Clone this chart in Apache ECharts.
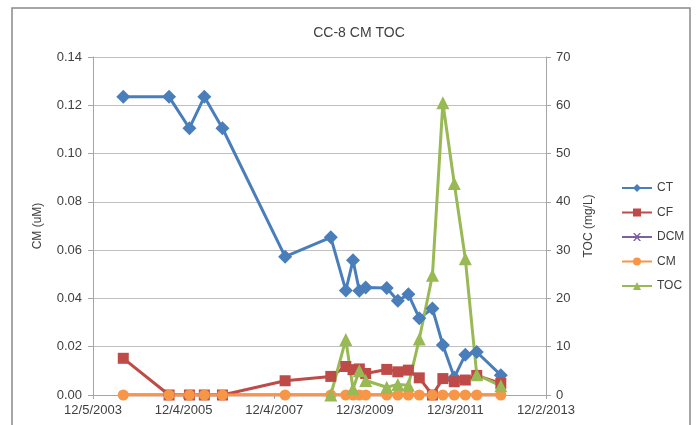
<!DOCTYPE html>
<html>
<head>
<meta charset="utf-8">
<script src="https://cdn.jsdelivr.net/npm/echarts@6/dist/echarts.min.js"></script>
<style>
html,body{margin:0;padding:0;background:#fff;}
#chart{width:699px;height:425px;}
</style>
</head>
<body>
<div id="chart"></div>
<script>
// ---- data ----
var startDate = '2003-12-05';
var dates = ['2004-08-05','2005-08-09','2006-01-20','2006-05-20','2006-10-13','2008-03-01',
  '2009-03-04','2009-07-03','2009-08-30','2009-10-20','2009-12-10','2010-05-29','2010-08-26',
  '2010-11-19','2011-02-15','2011-06-01','2011-08-24','2011-11-24','2012-02-21','2012-05-23','2012-12-03'];
var ct  = [0.1235,0.1235,0.1105,0.1235,0.1105,0.0573,0.0653,0.0433,0.0558,0.0432,0.0445,0.0443,0.0390,
  0.0417,0.0318,0.0358,0.0207,0.0073,0.0167,0.0178,0.0082];
var cf  = [0.0152,0,0,0,0,0.0059,0.0077,0.0118,0.0105,0.0108,0.0089,0.0106,0.0096,
  0.0103,0.0071,0,0.0068,0.0055,0.0062,0.0081,0.0048];
var dcm = [0,0,0,0,0,0,0,0,0,0,0,0,0,0,0,0,0,0,0,0,0];
var cm  = [0,0,0,0,0,0,0,0,0,0,0,0,0,0,0,0,0,0,0,0,0];
var toc = [null,null,null,null,null,null,0,11.5,1.3,5.0,3.0,1.6,2.2,2.0,11.6,24.8,60.5,43.8,28.2,4.2,1.9];
var seriesNames = ['CT','CF','DCM','CM','TOC'];
var leftTicks = {min:0, max:0.14, interval:0.02};
var rightTicks = {min:0, max:70, interval:10};
var xSpanDays = 3650, xStepDays = 730;

// ---- helpers ----
function dayNum(s){var p=s.split('-');return Date.UTC(+p[0],+p[1]-1,+p[2])/86400000;}
var d0 = dayNum(startDate);
function pairs(vals){return dates.map(function(d,i){return [dayNum(d)-d0, vals[i]];});}
function fmtDate(v){var t=new Date((d0+v)*86400000);return (t.getUTCMonth()+1)+'/'+t.getUTCDate()+'/'+t.getUTCFullYear();}

var FONT = '"Liberation Sans", Arial, sans-serif';
var TXT = '#404040';
var chart = echarts.init(document.getElementById('chart'), null, {renderer:'canvas'});
var colors = ['#4A7EBB','#BE4B48','#7D60A0','#F79646','#98B954'];

function mk(name, vals, symbol, size, yIdx){
  var c = colors[seriesNames.indexOf(name)];
  return {
    name:name, type:'line', data:pairs(vals), yAxisIndex:yIdx||0,
    symbol:symbol, symbolSize:size, showSymbol:true, connectNulls:false,
    lineStyle:{width:3, color:c},
    itemStyle:{color:c},
    emphasis:{disabled:true}, animation:false, z:2
  };
}

var option = {
  animation:false,
  color:colors,
  title:{text:'CC-8 CM TOC', left:354, top:21, textAlign:'center',
    textStyle:{fontFamily:FONT, fontSize:14, fontWeight:'normal', color:TXT}},
  graphic:[{type:'rect', shape:{x:12, y:8, width:678, height:440},
    style:{fill:'none', stroke:'#898989', lineWidth:1.5}, silent:true}],
  legend:{orient:'vertical', left:621, top:182, padding:0, itemGap:12.5, itemWidth:30, itemHeight:10,
    textStyle:{fontFamily:FONT, fontSize:12, color:TXT}, data:seriesNames},
  grid:{left:93, right:153, top:57, bottom:30, containLabel:false},
  xAxis:{type:'value', min:0, max:xSpanDays, interval:xStepDays,
    axisLine:{show:true, lineStyle:{color:'#a6a6a6', width:1}},
    axisTick:{show:true, length:4, lineStyle:{color:'#a6a6a6'}},
    splitLine:{show:false},
    axisLabel:{formatter:fmtDate, fontFamily:FONT, fontSize:13, color:TXT, margin:9}},
  yAxis:[
    {type:'value', min:leftTicks.min, max:leftTicks.max, interval:leftTicks.interval,
     name:'CM (uM)', nameLocation:'middle', nameGap:49, nameRotate:90,
     nameTextStyle:{fontFamily:FONT, fontSize:12, color:TXT},
     axisLine:{show:true, lineStyle:{color:'#a6a6a6'}},
     axisTick:{show:true, length:5, lineStyle:{color:'#a6a6a6'}},
     splitLine:{show:true, lineStyle:{color:'#c0c0c0', width:1}},
     axisLabel:{formatter:function(v){return v.toFixed(2);}, fontFamily:FONT, fontSize:13, color:TXT, margin:11}},
    {type:'value', min:rightTicks.min, max:rightTicks.max, interval:rightTicks.interval, position:'right',
     name:'TOC (mg/L)', nameLocation:'middle', nameGap:37, nameRotate:90,
     nameTextStyle:{fontFamily:FONT, fontSize:12, color:TXT},
     axisLine:{show:true, lineStyle:{color:'#a6a6a6'}},
     axisTick:{show:true, length:5, lineStyle:{color:'#a6a6a6'}},
     splitLine:{show:false},
     axisLabel:{fontFamily:FONT, fontSize:13, color:TXT, margin:10}}
  ],
  series:[
    mk('CT', ct, 'diamond', 14, 0),
    mk('CF', cf, 'rect', 11, 0),
    mk('DCM', dcm, 'path://M0,0L2,0L5,3L8,0L10,0L6,5L10,10L8,10L5,7L2,10L0,10L4,5Z', 8, 0),
    mk('CM', cm, 'circle', 11, 0),
    mk('TOC', toc, 'triangle', 13, 1)
  ]
};
chart.setOption(option);
</script>
</body>
</html>
